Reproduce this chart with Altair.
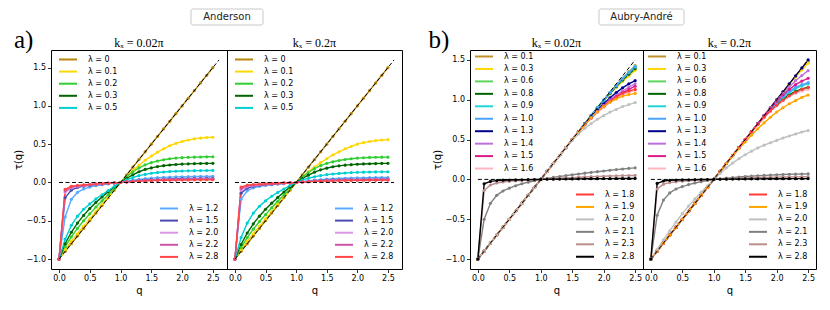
import altair as alt
import pandas as pd

Q = [0.0, 0.1, 0.2, 0.3, 0.4, 0.5, 0.6, 0.7, 0.8, 0.9, 1.0, 1.1, 1.2,
     1.3, 1.4, 1.5, 1.6, 1.7, 1.8, 1.9, 2.0, 2.1, 2.2, 2.3, 2.4, 2.5]

# ---------------- Anderson, k_x = 0.02 pi ----------------
AND_K002 = {
    "λ = 0":   [-1.0, -0.9, -0.8, -0.7, -0.6, -0.5, -0.4, -0.3, -0.2, -0.1, 0.0, 0.1, 0.2, 0.3, 0.4, 0.5, 0.6, 0.7, 0.8, 0.9, 1.0, 1.1, 1.2, 1.3, 1.4, 1.5],
    "λ = 0.1": [-1.0, -0.88, -0.77, -0.67, -0.57, -0.475, -0.38, -0.285, -0.19, -0.095, 0.0, 0.08, 0.155, 0.225, 0.29, 0.345, 0.395, 0.44, 0.48, 0.51, 0.535, 0.555, 0.57, 0.58, 0.587, 0.59],
    "λ = 0.2": [-1.0, -0.84, -0.71, -0.6, -0.5, -0.41, -0.32, -0.24, -0.16, -0.08, 0.0, 0.075, 0.14, 0.19, 0.23, 0.26, 0.28, 0.297, 0.31, 0.318, 0.324, 0.328, 0.331, 0.333, 0.335, 0.336],
    "λ = 0.3": [-1.0, -0.8, -0.65, -0.53, -0.43, -0.34, -0.26, -0.19, -0.12, -0.06, 0.0, 0.055, 0.1, 0.14, 0.17, 0.19, 0.207, 0.219, 0.228, 0.235, 0.24, 0.243, 0.246, 0.248, 0.249, 0.25],
    "λ = 0.5": [-1.0, -0.74, -0.56, -0.44, -0.35, -0.28, -0.215, -0.16, -0.105, -0.05, 0.0, 0.035, 0.065, 0.09, 0.105, 0.12, 0.13, 0.137, 0.143, 0.147, 0.15, 0.152, 0.154, 0.155, 0.156, 0.157],
    "λ = 1.2": [-1.0, -0.45, -0.22, -0.13, -0.085, -0.06, -0.042, -0.03, -0.019, -0.009, 0.0, 0.015, 0.03, 0.04, 0.05, 0.057, 0.063, 0.067, 0.07, 0.073, 0.075, 0.077, 0.078, 0.079, 0.08, 0.081],
    "λ = 1.5": [-1.0, -0.2, -0.1, -0.065, -0.048, -0.037, -0.028, -0.02, -0.013, -0.006, 0.0, 0.01, 0.019, 0.026, 0.032, 0.037, 0.041, 0.044, 0.047, 0.049, 0.051, 0.052, 0.053, 0.054, 0.055, 0.055],
    "λ = 2.0": [-1.0, -0.13, -0.07, -0.05, -0.038, -0.03, -0.023, -0.016, -0.01, -0.005, 0.0, 0.008, 0.015, 0.021, 0.026, 0.03, 0.034, 0.037, 0.039, 0.041, 0.042, 0.043, 0.044, 0.045, 0.045, 0.045],
    "λ = 2.2": [-1.0, -0.11, -0.06, -0.045, -0.035, -0.028, -0.021, -0.015, -0.009, -0.004, 0.0, 0.007, 0.013, 0.018, 0.023, 0.027, 0.03, 0.033, 0.035, 0.037, 0.038, 0.039, 0.04, 0.04, 0.04, 0.04],
    "λ = 2.8": [-1.0, -0.09, -0.05, -0.04, -0.032, -0.026, -0.02, -0.014, -0.009, -0.004, 0.0, 0.006, 0.012, 0.017, 0.021, 0.024, 0.027, 0.029, 0.03, 0.031, 0.032, 0.033, 0.034, 0.034, 0.035, 0.035],
}

# ---------------- Anderson, k_x = 0.2 pi ----------------
AND_K02 = {
    "λ = 0":   [-1.0, -0.9, -0.8, -0.7, -0.6, -0.5, -0.4, -0.3, -0.2, -0.1, 0.0, 0.1, 0.2, 0.3, 0.4, 0.5, 0.6, 0.7, 0.8, 0.9, 1.0, 1.1, 1.2, 1.3, 1.4, 1.5],
    "λ = 0.1": [-1.0, -0.88, -0.77, -0.67, -0.57, -0.475, -0.38, -0.285, -0.19, -0.095, 0.0, 0.07, 0.14, 0.2, 0.26, 0.31, 0.36, 0.4, 0.44, 0.47, 0.5, 0.52, 0.535, 0.547, 0.555, 0.56],
    "λ = 0.2": [-1.0, -0.85, -0.72, -0.61, -0.51, -0.42, -0.33, -0.245, -0.165, -0.08, 0.0, 0.07, 0.13, 0.18, 0.22, 0.25, 0.27, 0.287, 0.3, 0.31, 0.318, 0.323, 0.327, 0.329, 0.33, 0.331],
    "λ = 0.3": [-1.0, -0.81, -0.66, -0.54, -0.44, -0.35, -0.27, -0.195, -0.125, -0.06, 0.0, 0.05, 0.095, 0.135, 0.165, 0.187, 0.205, 0.217, 0.226, 0.233, 0.238, 0.242, 0.245, 0.247, 0.249, 0.25],
    "λ = 0.5": [-1.0, -0.72, -0.53, -0.4, -0.31, -0.24, -0.18, -0.13, -0.085, -0.04, 0.0, 0.03, 0.055, 0.075, 0.09, 0.102, 0.111, 0.118, 0.124, 0.129, 0.132, 0.135, 0.137, 0.138, 0.139, 0.14],
    "λ = 1.2": [-1.0, -0.22, -0.11, -0.07, -0.05, -0.038, -0.029, -0.021, -0.014, -0.007, 0.0, 0.011, 0.021, 0.03, 0.037, 0.043, 0.048, 0.052, 0.055, 0.058, 0.06, 0.062, 0.063, 0.064, 0.065, 0.065],
    "λ = 1.5": [-1.0, -0.14, -0.075, -0.05, -0.038, -0.03, -0.023, -0.016, -0.01, -0.005, 0.0, 0.008, 0.015, 0.021, 0.026, 0.03, 0.033, 0.036, 0.038, 0.04, 0.041, 0.042, 0.043, 0.044, 0.044, 0.045],
    "λ = 2.0": [-1.0, -0.1, -0.055, -0.04, -0.031, -0.024, -0.018, -0.013, -0.008, -0.004, 0.0, 0.007, 0.013, 0.018, 0.022, 0.026, 0.029, 0.031, 0.033, 0.034, 0.035, 0.036, 0.037, 0.037, 0.038, 0.038],
    "λ = 2.2": [-1.0, -0.08, -0.045, -0.034, -0.027, -0.021, -0.016, -0.011, -0.007, -0.003, 0.0, 0.006, 0.011, 0.016, 0.02, 0.023, 0.026, 0.028, 0.03, 0.031, 0.032, 0.033, 0.034, 0.034, 0.035, 0.035],
    "λ = 2.8": [-1.0, -0.06, -0.035, -0.027, -0.022, -0.018, -0.014, -0.01, -0.006, -0.003, 0.0, 0.005, 0.01, 0.014, 0.017, 0.02, 0.022, 0.024, 0.026, 0.027, 0.028, 0.029, 0.03, 0.03, 0.031, 0.031],
}

# ---------------- Aubry-Andre, k_x = 0.02 pi ----------------
AA_K002 = {
    "λ = 0.1": [-1.0, -0.9, -0.8, -0.7, -0.6, -0.5, -0.4, -0.3, -0.2, -0.1, 0.0, 0.1, 0.2, 0.3, 0.4, 0.5, 0.6, 0.7, 0.8, 0.9, 0.995, 1.09, 1.18, 1.27, 1.35, 1.43],
    "λ = 0.3": [-1.0, -0.9, -0.8, -0.7, -0.6, -0.5, -0.4, -0.3, -0.2, -0.1, 0.0, 0.1, 0.2, 0.3, 0.4, 0.5, 0.6, 0.7, 0.8, 0.9, 0.99, 1.075, 1.155, 1.23, 1.3, 1.37],
    "λ = 0.6": [-1.0, -0.9, -0.8, -0.7, -0.6, -0.5, -0.4, -0.3, -0.2, -0.1, 0.0, 0.1, 0.2, 0.3, 0.4, 0.5, 0.6, 0.7, 0.8, 0.9, 0.995, 1.085, 1.17, 1.25, 1.325, 1.4],
    "λ = 0.8": [-1.0, -0.9, -0.8, -0.7, -0.6, -0.5, -0.4, -0.3, -0.2, -0.1, 0.0, 0.1, 0.2, 0.3, 0.4, 0.5, 0.6, 0.7, 0.8, 0.9, 0.99, 1.08, 1.165, 1.245, 1.32, 1.39],
    "λ = 0.9": [-1.0, -0.9, -0.8, -0.7, -0.6, -0.5, -0.4, -0.3, -0.2, -0.1, 0.0, 0.1, 0.2, 0.3, 0.4, 0.5, 0.6, 0.7, 0.8, 0.9, 0.995, 1.09, 1.18, 1.265, 1.345, 1.42],
    "λ = 1.0": [-1.0, -0.9, -0.8, -0.7, -0.6, -0.5, -0.4, -0.3, -0.2, -0.1, 0.0, 0.1, 0.2, 0.3, 0.4, 0.5, 0.6, 0.7, 0.8, 0.9, 0.995, 1.09, 1.175, 1.26, 1.34, 1.41],
    "λ = 1.3": [-1.0, -0.9, -0.8, -0.7, -0.6, -0.5, -0.4, -0.3, -0.2, -0.1, 0.0, 0.1, 0.2, 0.3, 0.4, 0.5, 0.6, 0.695, 0.785, 0.87, 0.95, 1.025, 1.09, 1.15, 1.2, 1.24],
    "λ = 1.4": [-1.0, -0.9, -0.8, -0.7, -0.6, -0.5, -0.4, -0.3, -0.2, -0.1, 0.0, 0.1, 0.2, 0.3, 0.4, 0.5, 0.6, 0.69, 0.775, 0.855, 0.93, 1.0, 1.06, 1.11, 1.16, 1.2],
    "λ = 1.5": [-1.0, -0.9, -0.8, -0.7, -0.6, -0.5, -0.4, -0.3, -0.2, -0.1, 0.0, 0.1, 0.2, 0.3, 0.4, 0.5, 0.6, 0.69, 0.77, 0.85, 0.92, 0.985, 1.04, 1.09, 1.13, 1.17],
    "λ = 1.6": [-1.0, -0.9, -0.8, -0.7, -0.6, -0.5, -0.4, -0.3, -0.2, -0.1, 0.0, 0.1, 0.2, 0.3, 0.4, 0.5, 0.595, 0.685, 0.765, 0.84, 0.905, 0.965, 1.015, 1.06, 1.095, 1.12],
    "λ = 1.8": [-1.0, -0.9, -0.8, -0.7, -0.6, -0.5, -0.4, -0.3, -0.2, -0.1, 0.0, 0.1, 0.2, 0.3, 0.4, 0.5, 0.595, 0.685, 0.77, 0.85, 0.92, 0.98, 1.035, 1.08, 1.11, 1.13],
    "λ = 1.9": [-1.0, -0.9, -0.8, -0.7, -0.6, -0.5, -0.4, -0.3, -0.2, -0.1, 0.0, 0.1, 0.2, 0.3, 0.4, 0.5, 0.595, 0.69, 0.775, 0.85, 0.915, 0.97, 1.01, 1.045, 1.065, 1.08],
    "λ = 2.0": [-1.0, -0.9, -0.8, -0.7, -0.6, -0.5, -0.4, -0.3, -0.2, -0.1, 0.0, 0.1, 0.2, 0.3, 0.4, 0.49, 0.57, 0.64, 0.7, 0.755, 0.8, 0.845, 0.88, 0.915, 0.94, 0.965],
    "λ = 2.1": [-1.0, -0.5, -0.3, -0.2, -0.145, -0.11, -0.08, -0.055, -0.035, -0.017, 0.0, 0.013, 0.025, 0.036, 0.047, 0.058, 0.068, 0.078, 0.088, 0.097, 0.106, 0.115, 0.123, 0.131, 0.138, 0.145],
    "λ = 2.3": [-1.0, -0.14, -0.07, -0.045, -0.032, -0.024, -0.018, -0.013, -0.008, -0.004, 0.0, 0.005, 0.01, 0.015, 0.019, 0.023, 0.027, 0.031, 0.034, 0.037, 0.04, 0.043, 0.045, 0.047, 0.049, 0.05],
    "λ = 2.8": [-1.0, -0.055, -0.025, -0.015, -0.01, -0.008, -0.006, -0.004, -0.003, -0.001, 0.0, 0.002, 0.003, 0.004, 0.005, 0.006, 0.007, 0.008, 0.009, 0.009, 0.01, 0.01, 0.011, 0.011, 0.012, 0.012],
}

# ---------------- Aubry-Andre, k_x = 0.2 pi ----------------
AA_K02 = {
    "λ = 0.1": [-1.0, -0.9, -0.8, -0.7, -0.6, -0.5, -0.4, -0.3, -0.2, -0.1, 0.0, 0.1, 0.2, 0.3, 0.4, 0.5, 0.6, 0.7, 0.8, 0.9, 1.0, 1.1, 1.2, 1.295, 1.39, 1.485],
    "λ = 0.3": [-1.0, -0.9, -0.8, -0.7, -0.6, -0.5, -0.4, -0.3, -0.2, -0.1, 0.0, 0.1, 0.2, 0.3, 0.4, 0.5, 0.6, 0.7, 0.8, 0.9, 1.0, 1.1, 1.195, 1.285, 1.375, 1.46],
    "λ = 0.6": [-1.0, -0.9, -0.8, -0.7, -0.6, -0.5, -0.4, -0.3, -0.2, -0.1, 0.0, 0.1, 0.2, 0.3, 0.4, 0.5, 0.6, 0.695, 0.785, 0.865, 0.94, 1.0, 1.05, 1.09, 1.125, 1.15],
    "λ = 0.8": [-1.0, -0.9, -0.8, -0.7, -0.6, -0.5, -0.4, -0.3, -0.2, -0.1, 0.0, 0.1, 0.2, 0.3, 0.4, 0.5, 0.6, 0.7, 0.79, 0.87, 0.945, 1.01, 1.065, 1.105, 1.135, 1.157],
    "λ = 0.9": [-1.0, -0.9, -0.8, -0.7, -0.6, -0.5, -0.4, -0.3, -0.2, -0.1, 0.0, 0.1, 0.2, 0.3, 0.4, 0.5, 0.6, 0.7, 0.795, 0.88, 0.96, 1.03, 1.09, 1.14, 1.175, 1.2],
    "λ = 1.0": [-1.0, -0.9, -0.8, -0.7, -0.6, -0.5, -0.4, -0.3, -0.2, -0.1, 0.0, 0.1, 0.2, 0.3, 0.4, 0.5, 0.6, 0.7, 0.8, 0.885, 0.965, 1.04, 1.105, 1.155, 1.19, 1.215],
    "λ = 1.3": [-1.0, -0.9, -0.8, -0.7, -0.6, -0.5, -0.4, -0.3, -0.2, -0.1, 0.0, 0.1, 0.2, 0.3, 0.4, 0.5, 0.6, 0.7, 0.8, 0.9, 1.0, 1.1, 1.2, 1.3, 1.4, 1.5],
    "λ = 1.4": [-1.0, -0.9, -0.8, -0.7, -0.6, -0.5, -0.4, -0.3, -0.2, -0.1, 0.0, 0.1, 0.2, 0.3, 0.4, 0.5, 0.6, 0.7, 0.8, 0.9, 0.99, 1.08, 1.16, 1.24, 1.305, 1.366],
    "λ = 1.5": [-1.0, -0.9, -0.8, -0.7, -0.6, -0.5, -0.4, -0.3, -0.2, -0.1, 0.0, 0.1, 0.2, 0.3, 0.4, 0.5, 0.6, 0.7, 0.8, 0.89, 0.98, 1.06, 1.13, 1.19, 1.235, 1.27],
    "λ = 1.6": [-1.0, -0.9, -0.8, -0.7, -0.6, -0.5, -0.4, -0.3, -0.2, -0.1, 0.0, 0.1, 0.2, 0.3, 0.4, 0.5, 0.6, 0.69, 0.775, 0.855, 0.925, 0.985, 1.04, 1.08, 1.11, 1.13],
    "λ = 1.8": [-1.0, -0.9, -0.8, -0.7, -0.6, -0.5, -0.4, -0.3, -0.2, -0.1, 0.0, 0.1, 0.2, 0.3, 0.4, 0.5, 0.6, 0.69, 0.78, 0.86, 0.93, 0.995, 1.05, 1.095, 1.13, 1.155],
    "λ = 1.9": [-1.0, -0.9, -0.8, -0.7, -0.6, -0.5, -0.4, -0.3, -0.2, -0.1, 0.0, 0.1, 0.2, 0.295, 0.385, 0.47, 0.555, 0.635, 0.71, 0.78, 0.845, 0.9, 0.95, 0.99, 1.03, 1.06],
    "λ = 2.0": [-1.0, -0.88, -0.76, -0.645, -0.535, -0.43, -0.335, -0.245, -0.16, -0.08, 0.0, 0.075, 0.145, 0.205, 0.26, 0.31, 0.355, 0.395, 0.43, 0.46, 0.49, 0.52, 0.545, 0.57, 0.595, 0.614],
    "λ = 2.1": [-1.0, -0.45, -0.26, -0.17, -0.12, -0.09, -0.065, -0.045, -0.028, -0.013, 0.0, 0.008, 0.016, 0.023, 0.03, 0.036, 0.041, 0.046, 0.05, 0.054, 0.058, 0.061, 0.064, 0.066, 0.068, 0.07],
    "λ = 2.3": [-1.0, -0.12, -0.06, -0.04, -0.03, -0.022, -0.016, -0.011, -0.007, -0.003, 0.0, 0.004, 0.008, 0.012, 0.015, 0.018, 0.021, 0.023, 0.025, 0.027, 0.029, 0.03, 0.031, 0.032, 0.033, 0.034],
    "λ = 2.8": [-1.0, -0.05, -0.02, -0.012, -0.008, -0.006, -0.004, -0.003, -0.002, -0.001, 0.0, 0.002, 0.003, 0.004, 0.005, 0.006, 0.007, 0.007, 0.008, 0.008, 0.009, 0.009, 0.01, 0.01, 0.01, 0.01],
}

AND_COLORS = ["#b8860b", "#ffd700", "#32cd32", "#006400", "#00ced1",
              "#5aaaff", "#4b4bb0", "#dc96e6", "#cc55a8", "#ff4545"]
AA_COLORS = ["#c0902a", "#ffd700", "#5ed65e", "#006400", "#22d5d8", "#4aa3ff",
             "#00008b", "#c070dd", "#dd1a8a", "#ffb6c1",
             "#ff3b3b", "#ffa500", "#c0c0c0", "#808080", "#bc8f8f", "#000000"]

TITLES = ["kₓ = 0.02π", "kₓ = 0.2π"]
HEADERS = ["Anderson", "Aubry-André"]
LETTERS = ["a)", "b)"]
TICKS_X = [0.0, 0.5, 1.0, 1.5, 2.0, 2.5]
TICKS_Y = [-1.0, -0.5, 0.0, 0.5, 1.0, 1.5]
REF_Q_AND = [0.0, 2.6]
REF_Q_AA = [0.0, 2.5]

for d in (AND_K002, AND_K02, AA_K002, AA_K02):
    for k, v in d.items():
        assert len(v) == len(Q), (k, len(v))

LEG_COMMON = dict(title=None, symbolType="M-1,0H3", symbolSize=81, symbolStrokeWidth=2,
                  labelFont="DejaVu Sans", labelFontSize=8, labelColor="#000",
                  symbolOffset=3, labelOffset=19, padding=0, symbolOpacity=1)


def panel(series, colors, n_top, xdom, ydom, ref_q, title, width, height,
          show_y, top_offset, row_pad, header=None, letter=None):
    labels = list(series.keys())
    top, bot = labels[:n_top], labels[n_top:]
    rows = [{"q": q, "tau": t, "lam": lab} for lab in labels for q, t in zip(Q, series[lab])]
    df = pd.DataFrame(rows)
    cmap = dict(zip(labels, colors))
    x = alt.X("q:Q", scale=alt.Scale(domain=xdom, nice=False, zero=False),
              axis=alt.Axis(values=TICKS_X, format=".1f", title="q"))
    if show_y:
        y = alt.Y("tau:Q", scale=alt.Scale(domain=ydom, nice=False, zero=False),
                  axis=alt.Axis(values=TICKS_Y, format=".1f", title="τ(q)"))
    else:
        y = alt.Y("tau:Q", scale=alt.Scale(domain=ydom, nice=False, zero=False), axis=None)

    lines_top = alt.Chart(df[df.lam.isin(top)]).mark_line(strokeWidth=1.4).encode(
        x=x, y=y,
        color=alt.Color("lam:N", scale=alt.Scale(domain=top, range=[cmap[l] for l in top]),
                        legend=alt.Legend(orient="top-left", offset=top_offset,
                                          rowPadding=row_pad, **LEG_COMMON)))
    lines_bot = alt.Chart(df[df.lam.isin(bot)]).mark_line(strokeWidth=1.4).encode(
        x=x, y=y,
        stroke=alt.Stroke("lam:N", scale=alt.Scale(domain=bot, range=[cmap[l] for l in bot]),
                          legend=alt.Legend(orient="bottom-right", offset=8,
                                            rowPadding=row_pad, **LEG_COMMON)))
    pts = alt.Chart(df).mark_circle(size=10, opacity=1).encode(
        x=x, y=y,
        fill=alt.Fill("lam:N", scale=alt.Scale(domain=labels, range=colors), legend=None))

    ref = pd.DataFrame({
        "q": ref_q + ref_q,
        "tau": [ref_q[0] - 1.0, ref_q[1] - 1.0, 0.0, 0.0],
        "kind": ["diag", "diag", "zero", "zero"],
    })
    ref_layer = alt.Chart(ref).mark_line(color="black", strokeWidth=1, strokeDash=[4, 2.5]).encode(
        x=x, y=y, detail="kind:N")

    tdf = pd.DataFrame({"t": [title]})
    title_layer = alt.Chart(tdf).mark_text(font="Liberation Serif", fontSize=12, color="black",
                                           align="center", baseline="middle").encode(
        x=alt.value(width / 2), y=alt.value(-7), text="t:N")

    layers = [lines_top, lines_bot, pts, ref_layer, title_layer]
    if header is not None:
        hx0, hx1, htext = header
        hdf = pd.DataFrame({"t": [htext]})
        layers.append(alt.Chart(hdf).mark_rect(fill="white", stroke="#c9c9c9", strokeWidth=1,
                                               cornerRadius=2).encode(
            x=alt.value(hx0), x2=alt.value(hx1), y=alt.value(-41), y2=alt.value(-25)))
        layers.append(alt.Chart(hdf).mark_text(font="DejaVu Sans", fontSize=10, color="#222",
                                               align="center", baseline="middle").encode(
            x=alt.value((hx0 + hx1) / 2), y=alt.value(-33), text="t:N"))
    if letter is not None:
        lx, ltext = letter
        ldf = pd.DataFrame({"t": [ltext]})
        layers.append(alt.Chart(ldf).mark_text(font="Liberation Serif", fontSize=25, color="black",
                                               align="left", baseline="alphabetic").encode(
            x=alt.value(lx), y=alt.value(-2), text="t:N"))

    return alt.layer(*layers).properties(width=width, height=height)


RES = dict(x="independent", y="independent", color="independent",
           stroke="independent", fill="independent")

a1 = panel(AND_K002, AND_COLORS, 5, [-0.13, 2.73], [-1.13, 1.73], REF_Q_AND, TITLES[0],
           176, 219, True, 4, 2.1, header=(140, 212, HEADERS[0]), letter=(-37, LETTERS[0]))
a2 = panel(AND_K02, AND_COLORS, 5, [-0.13, 2.73], [-1.13, 1.73], REF_Q_AND, TITLES[1],
           175, 219, False, 4, 2.1)
b1 = panel(AA_K002, AA_COLORS, 10, [-0.125, 2.625], [-1.125, 1.625], REF_Q_AA, TITLES[0],
           173, 219, True, 1, 2.45, header=(129, 214, HEADERS[1]), letter=(-41.5, LETTERS[1]))
b2 = panel(AA_K02, AA_COLORS, 10, [-0.125, 2.625], [-1.125, 1.625], REF_Q_AA, TITLES[1],
           173, 219, False, 1, 2.45)

spacer = alt.Chart(pd.DataFrame({"t": [""]})).mark_text().encode(
    text="t:N").properties(width=68, height=219,
                           view=alt.ViewBackground(strokeOpacity=0))

chart = alt.hconcat(a1, a2, spacer, b1, b2, spacing=0, bounds="flush").resolve_scale(**RES).properties(
    padding={"left": 4, "top": 0, "right": 4, "bottom": 4}
).configure_view(stroke="black", strokeWidth=1).configure_axis(
    labelFont="DejaVu Sans", labelFontSize=8, labelColor="#000",
    tickColor="#000", tickSize=3.5, tickWidth=0.8, domain=False, grid=False,
    labelPadding=2, titleFont="DejaVu Sans", titleFontSize=10,
    titleFontWeight="normal", titleColor="#000", titlePadding=3
)

chart.save("out.html", embed_options={"renderer": "svg", "actions": False})
